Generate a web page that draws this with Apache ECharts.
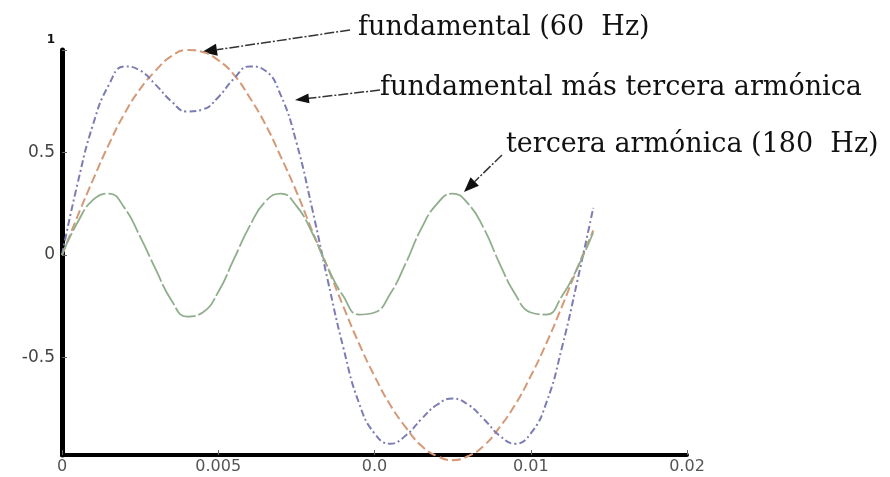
<!DOCTYPE html>
<html>
<head>
<meta charset="utf-8">
<script src="https://cdn.jsdelivr.net/npm/echarts@6/dist/echarts.min.js"></script>
<style>
  html, body { margin: 0; padding: 0; background: #fff; }
  #chart { width: 890px; height: 477px; }
</style>
</head>
<body>
<div id="chart"></div>
<script>
// tiempo (s)
var tiempo = [0, 0.0005, 0.001, 0.0015, 0.002, 0.0025, 0.003, 0.0035, 0.004, 0.0045,
  0.005, 0.0055, 0.006, 0.0065, 0.007, 0.0075, 0.008, 0.0085, 0.009, 0.0095,
  0.01, 0.0105, 0.011, 0.0115, 0.012, 0.0125, 0.013, 0.0135, 0.014, 0.0145,
  0.015, 0.0155, 0.016, 0.0165, 0.017]

var fundamental = [0, 0.19, 0.37, 0.54, 0.69, 0.81, 0.9, 0.97, 1.0, 0.99,
  0.95, 0.88, 0.77, 0.64, 0.48, 0.31, 0.12, -0.06, -0.25, -0.43,
  -0.59, -0.73, -0.84, -0.93, -0.98, -1.0, -0.98, -0.93, -0.84, -0.73,
  -0.59, -0.43, -0.25, -0.06, 0.12]

var tercera = [0, 0.16, 0.27, 0.3, 0.23, 0.09, -0.07, -0.22, -0.3, -0.28,
  -0.18, -0.02, 0.14, 0.26, 0.3, 0.24, 0.11, -0.06, -0.2, -0.29,
  -0.28, -0.19, -0.04, 0.13, 0.25, 0.3, 0.25, 0.13, -0.04, -0.19,
  -0.28, -0.29, -0.2, -0.06, 0.11]

var suma = [0, 0.35, 0.64, 0.83, 0.92, 0.9, 0.83, 0.75, 0.7, 0.71,
  0.77, 0.86, 0.92, 0.9, 0.78, 0.55, 0.23, -0.12, -0.45, -0.72,
  -0.87, -0.92, -0.88, -0.8, -0.73, -0.7, -0.73, -0.8, -0.88, -0.92,
  -0.87, -0.72, -0.45, -0.12, 0.23]

// labels as printed (scan lost some digits)
var xTickLabels = ['0', '0.005', '0.0', '0.01', '0.02']
var yTickValues = [-0.5, 0, 0.5, 1]
var yTickLabels = ['-0.5', '0', '0.5', '1']

function pares(ys) {
  return tiempo.map(function (t, i) { return [t, ys[i]] })
}

// annotation arrow: line from (x1,y1) to arrowhead base, filled head to tip (x2,y2)
function flecha(x1, y1, x2, y2, len, half) {
  var dx = x2 - x1, dy = y2 - y1
  var d = Math.sqrt(dx * dx + dy * dy)
  var ux = dx / d, uy = dy / d
  var bx = x2 - ux * len, by = y2 - uy * len
  return [
    { type: 'line', shape: { x1: x1, y1: y1, x2: bx, y2: by },
      style: { stroke: '#333', lineWidth: 1.5, lineDash: [10, 2, 2, 2] } },
    { type: 'polygon', shape: { points: [[x2, y2], [bx - uy * half, by + ux * half], [bx + uy * half, by - ux * half]] },
      style: { fill: '#111' } }
  ]
}

var textStyle = { fill: '#111', font: '27px "DejaVu Serif", "Liberation Serif", serif' }

var myChart = echarts.init(document.getElementById('chart'))

var option = {
  animation: false,
  backgroundColor: '#fff',
  grid: { left: 62, right: 203, top: 50, bottom: 22 },
  xAxis: {
    type: 'value',
    min: 0,
    max: 0.02,
    interval: 0.005,
    axisLine: { onZero: false, lineStyle: { color: '#000', width: 4 } },
    axisTick: { inside: true, length: 5, lineStyle: { color: '#666', width: 1 } },
    axisLabel: {
      color: '#555',
      fontSize: 16,
      fontFamily: 'DejaVu Sans',
      margin: 4,
      formatter: function (v) { return xTickLabels[Math.round(v / 0.005)] }
    },
    splitLine: { show: false }
  },
  yAxis: {
    type: 'value',
    min: -0.975,
    max: 1,
    axisLine: { show: true, lineStyle: { color: '#000', width: 5 } },
    axisTick: { show: true, inside: true, length: 5, customValues: yTickValues, lineStyle: { color: '#666' } },
    axisLabel: {
      customValues: yTickValues,
      color: '#444',
      fontSize: 17,
      fontFamily: 'DejaVu Sans',
      margin: 7,
      formatter: function (v) {
        var i = yTickValues.indexOf(v)
        if (v === 1) return '{uno|' + yTickLabels[i] + '}'
        return yTickLabels[i]
      },
      rich: {
        uno: { fontSize: 12, fontWeight: 'bold', color: '#111', padding: [0, 0, 20, 0] }
      }
    },
    splitLine: { show: false }
  },
  series: [
    {
      name: 'fundamental (60 Hz)',
      type: 'line',
      smooth: true,
      symbol: 'none',
      clip: false,
      data: pares(fundamental),
      lineStyle: { color: '#d49a78', width: 2, type: [9, 4] }
    },
    {
      name: 'fundamental más tercera armónica',
      type: 'line',
      smooth: true,
      symbol: 'none',
      clip: false,
      data: pares(suma),
      lineStyle: { color: '#7c7cb4', width: 2, type: [7, 3, 2, 3] }
    },
    {
      name: 'tercera armónica (180 Hz)',
      type: 'line',
      smooth: true,
      symbol: 'none',
      clip: false,
      data: pares(tercera),
      lineStyle: { color: '#8fae8c', width: 1.8, type: [24, 3] }
    }
  ],
  graphic: [].concat(
    flecha(350, 30, 202, 52, 15, 6),
    flecha(380, 90, 295, 100, 14, 5),
    flecha(502, 155, 464, 192, 15, 6),
    [
      { type: 'text', x: 358, y: 28, style: Object.assign({ text: 'fundamental (60  Hz)', verticalAlign: 'middle' }, textStyle) },
      { type: 'text', x: 380, y: 88, style: Object.assign({ text: 'fundamental más tercera armónica', verticalAlign: 'middle' }, textStyle) },
      { type: 'text', x: 506, y: 145, style: Object.assign({ text: 'tercera armónica (180  Hz)', verticalAlign: 'middle' }, textStyle) }
    ]
  )
}

myChart.setOption(option)
</script>
</body>
</html>
